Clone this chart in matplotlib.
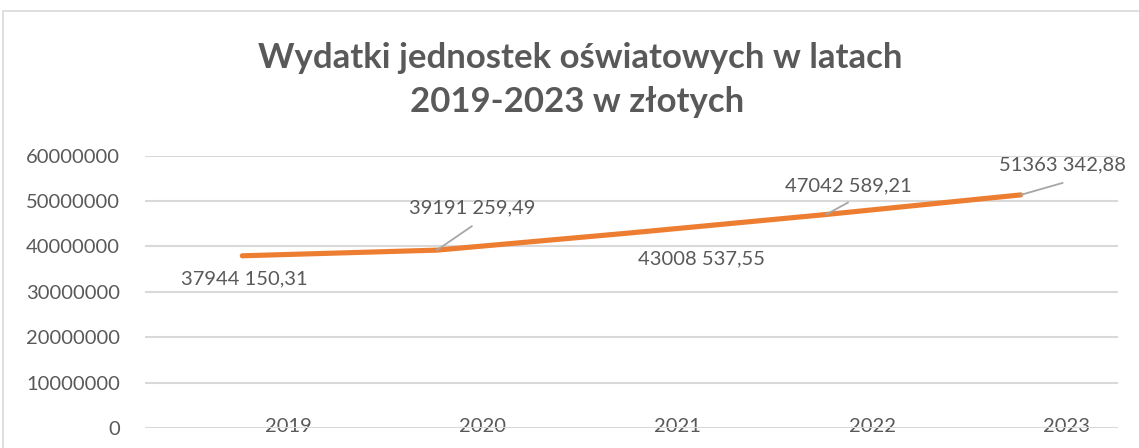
import matplotlib
matplotlib.use('Agg')
import matplotlib.pyplot as plt
import matplotlib.transforms as mtransforms
from matplotlib.patches import Rectangle

# Data
years = ['2019', '2020', '2021', '2022', '2023']
values = [37944150.31, 39191259.49, 43008537.55, 47042589.21, 51363342.88]
value_labels = ['37944 150,31', '39191 259,49', '43008 537,55', '47042 589,21', '51363 342,88']
y_ticks = [0, 10000000, 20000000, 30000000, 40000000, 50000000, 60000000]
title_lines = ['Wydatki jednostek oświatowych w latach', '2019-2023 w złotych']

# label offsets in pixels from the data point; leader line end (None = no leader)
label_offsets = [(2, -23), (35, 42), (70, -26), (22, 29), (42, 30)]
leader_ends = [None, (35, 24), None, (22, 12), (42, 12)]

plt.rcParams['font.family'] = ['Lato', 'DejaVu Sans']
text_color = '#595959'
grid_color = '#D9D9D9'

W, H = 1139, 448
fig = plt.figure(figsize=(W / 100, H / 100), dpi=100)

# outer chart border (cut off on the right/bottom)
fig.add_artist(Rectangle((3 / W, -0.1), 1.2, 1 - 11 / H + 0.1, transform=fig.transFigure,
                         fill=False, ec=grid_color, lw=1.2))

ax = fig.add_axes([145 / W, 1 - 428 / H, (1118 - 145) / W, (428 - 155.7) / H])

x = list(range(len(years)))
ax.plot(x, values, color='#ED7D31', lw=3.7, solid_capstyle='round', zorder=3)

ax.set_xlim(-0.5, len(years) - 0.5)
ax.set_ylim(0, 60000000)
ax.set_yticks(y_ticks)
ax.set_yticklabels([str(v) for v in y_ticks])
ax.set_xticks(x)
ax.set_xticklabels(years)
ax.yaxis.grid(True, color=grid_color, lw=1.5)
ax.set_axisbelow(True)
for s in ax.spines.values():
    s.set_visible(False)
ax.tick_params(axis='y', length=0, pad=18, labelsize=14.5, labelcolor=text_color)
ax.tick_params(axis='x', length=0, pad=-7, labelsize=14.5, labelcolor=text_color)

# year labels sit a bit right of the points, as in the original
shift = mtransforms.ScaledTranslation(0.46, 0, fig.dpi_scale_trans)
for lab in ax.get_xticklabels():
    lab.set_transform(lab.get_transform() + shift)

for xi, v, txt, off, lead in zip(x, values, value_labels, label_offsets, leader_ends):
    ax.annotate(txt, xy=(xi, v), xytext=off, textcoords='offset pixels',
                ha='center', va='center', fontsize=14.5, color=text_color, zorder=4)
    if lead is not None:
        ax.annotate('', xy=(xi, v), xytext=lead, textcoords='offset pixels',
                    arrowprops=dict(arrowstyle='-', color='#A6A6A6', lw=1.3,
                                    shrinkA=0, shrinkB=0), zorder=4)

# title
fig.text(580 / W, 1 - 58 / H, title_lines[0], ha='center', va='center',
         fontsize=25, fontweight='bold', color=text_color)
fig.text(577 / W, 1 - 102 / H, title_lines[1], ha='center', va='center',
         fontsize=25, fontweight='bold', color=text_color)

fig.savefig('out.png', dpi=100, facecolor='white')
